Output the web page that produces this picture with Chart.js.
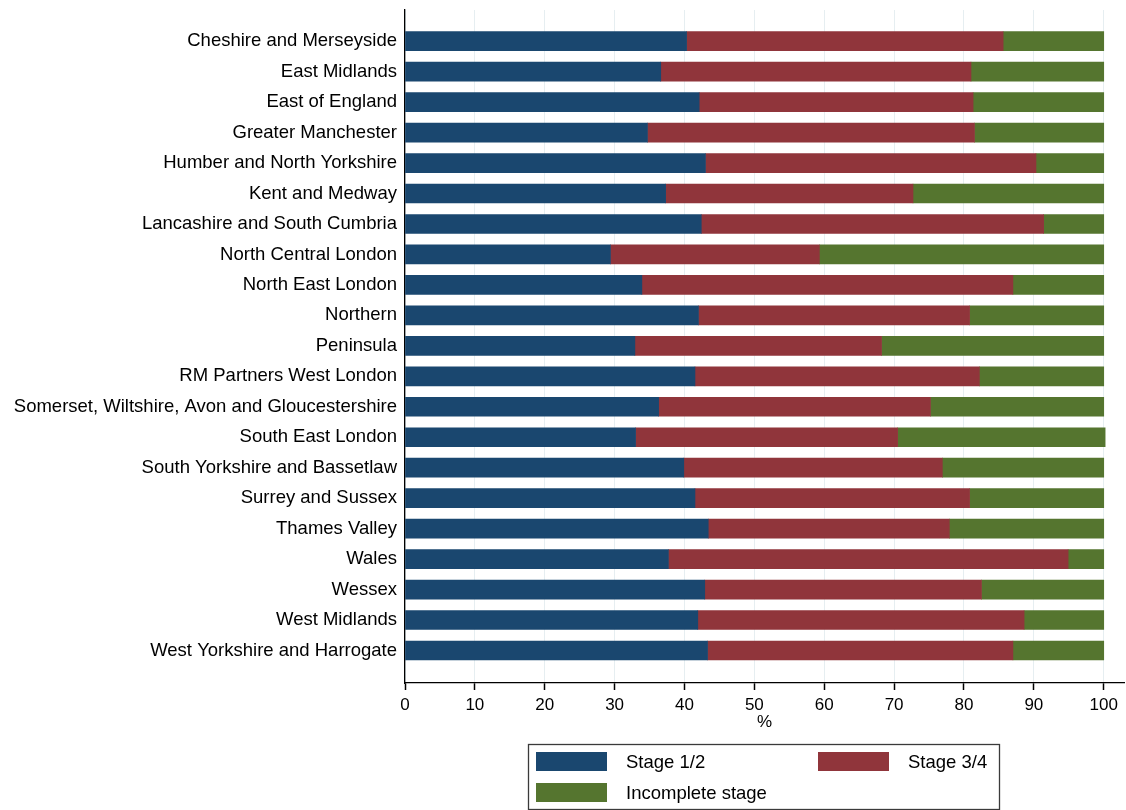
<!DOCTYPE html>
<html>
<head>
<meta charset="utf-8">
<script src="https://cdn.jsdelivr.net/npm/chart.js@4"></script>
<style>
  body { margin: 0; background: #fff; }
  #wrap { width: 1126px; height: 810px; position: relative; }
</style>
</head>
<body>
<div id="wrap"><canvas id="chart"></canvas></div>
<script>
const regions = [
  "Cheshire and Merseyside",
  "East Midlands",
  "East of England",
  "Greater Manchester",
  "Humber and North Yorkshire",
  "Kent and Medway",
  "Lancashire and South Cumbria",
  "North Central London",
  "North East London",
  "Northern",
  "Peninsula",
  "RM Partners West London",
  "Somerset, Wiltshire, Avon and Gloucestershire",
  "South East London",
  "South Yorkshire and Bassetlaw",
  "Surrey and Sussex",
  "Thames Valley",
  "Wales",
  "Wessex",
  "West Midlands",
  "West Yorkshire and Harrogate",
];

// % of patients in each stage group
const stage12 = [40.3, 36.6, 42.1, 34.7, 43.0, 37.3, 42.4, 29.4, 33.9, 42.0, 32.9,
                 41.5, 36.3, 33.0, 39.9, 41.5, 43.4, 37.7, 42.9, 41.9, 43.3];
const stage34 = [45.3, 44.4, 39.2, 46.8, 47.3, 35.4, 49.0, 29.9, 53.1, 38.8, 35.3,
                 40.7, 38.9, 37.5, 37.0, 39.3, 34.5, 57.2, 39.6, 46.7, 43.7];
const incomplete = [14.4, 19.0, 18.7, 18.5, 9.7, 27.3, 8.6, 40.7, 13.0, 19.2, 31.8,
                    17.8, 24.8, 29.7, 23.1, 19.2, 22.1, 5.1, 17.5, 11.4, 13.0];

const xTicks = [0, 10, 20, 30, 40, 50, 60, 70, 80, 90, 100];

Chart.defaults.font.family = "'Liberation Sans', Arial, sans-serif";
Chart.defaults.color = "#000";

const toPoints = (arr) => arr.map((v, i) => ({ x: v, y: i }));

// legend drawn in a box under the plot, two columns like the original
const boxLegend = {
  id: "boxLegend",
  afterDraw(chart) {
    const ctx = chart.ctx;
    const left = 528, top = 744, w = 471, h = 65;
    ctx.save();
    ctx.strokeStyle = "#3a3a3a";
    ctx.lineWidth = 1.3;
    ctx.strokeRect(left + 0.5, top + 0.5, w, h);
    ctx.font = "18.5px 'Liberation Sans', Arial, sans-serif";
    ctx.textBaseline = "middle";
    chart.data.datasets.forEach((ds, i) => {
      const col = i % 2, row = Math.floor(i / 2);
      const sx = left + 8 + col * 282;
      const cy = top + 17.5 + row * 31;
      ctx.fillStyle = ds.backgroundColor;
      ctx.fillRect(sx, cy - 9.5, 71, 19);
      ctx.fillStyle = "#000";
      ctx.fillText(ds.label, sx + 90, cy + 1);
    });
    ctx.restore();
  },
};

new Chart(document.getElementById("chart"), {
  type: "bar",
  data: {
    datasets: [
      { label: "Stage 1/2", data: toPoints(stage12), backgroundColor: "#1a476f" },
      { label: "Stage 3/4", data: toPoints(stage34), backgroundColor: "#90353b" },
      { label: "Incomplete stage", data: toPoints(incomplete), backgroundColor: "#55752f" },
    ],
  },
  options: {
    indexAxis: "y",
    responsive: true,
    maintainAspectRatio: false,
    animation: false,
    barThickness: 19,
    layout: { padding: { top: 10, left: 10, right: 2, bottom: 77 } },
    scales: {
      x: {
        type: "linear",
        stacked: true,
        min: 0,
        max: 102.9,
        afterBuildTicks: (scale) => {
          scale.ticks = xTicks.map((v) => ({ value: v }));
        },
        afterFit: (scale) => {
          scale.height = 50;
        },
        grid: { color: "#e6eef1", lineWidth: 1, tickLength: 7, tickColor: "#000", tickWidth: 1.5 },
        border: { display: true, color: "#000", width: 1.3 },
        ticks: { font: { size: 17 }, padding: 5, maxRotation: 0 },
        title: { display: true, text: "%", font: { size: 17 }, padding: { top: 1, bottom: 0 } },
      },
      y: {
        type: "linear",
        stacked: true,
        reverse: true,
        offset: false,
        min: -1.024,
        max: 21.067,
        afterBuildTicks: (scale) => {
          scale.ticks = regions.map((r, i) => ({ value: i }));
        },
        afterFit: (scale) => {
          scale.width = 395;
          scale.paddingTop = 0;
          scale.paddingBottom = 0;
        },
        grid: { drawOnChartArea: false, drawTicks: false, offset: false },
        border: { display: true, color: "#000", width: 1.3 },
        ticks: {
          autoSkip: false,
          padding: 8,
          font: { size: 18.5 },
          callback: (v) => regions[v],
        },
      },
    },
    plugins: {
      legend: { display: false },
      tooltip: { enabled: true },
    },
  },
  plugins: [boxLegend],
});
</script>
</body>
</html>
